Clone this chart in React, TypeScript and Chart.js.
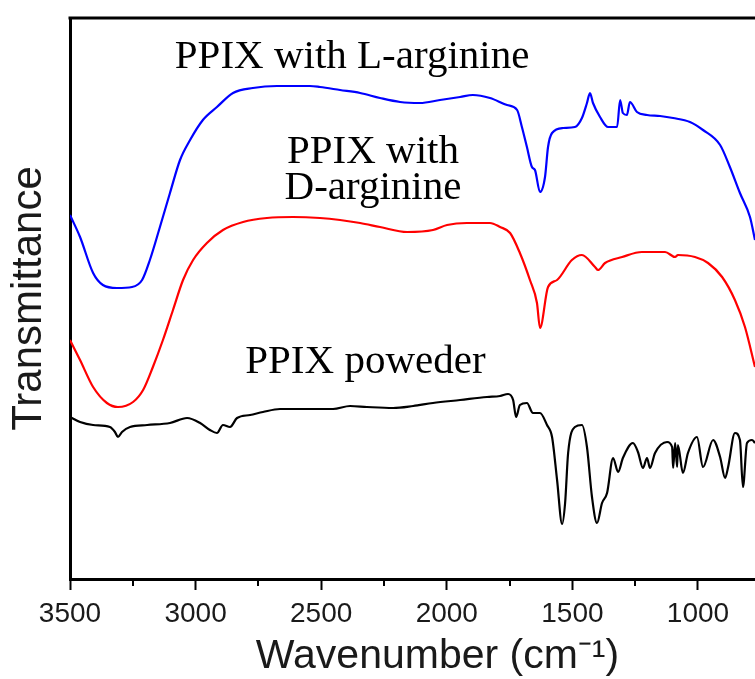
import React, { useEffect, useRef } from 'react';
import { Chart, registerables } from 'chart.js';

Chart.register(...registerables);

// ---- data (wavenumber in cm^-1, transmittance in arbitrary units) ----
const lArginineWavenumber = [3500, 3460, 3408, 3369, 3313, 3253, 3213, 3182, 3142, 3102, 3062, 3022, 2971, 2915, 2851, 2772, 2676, 2545, 2505, 2425, 2345, 2266, 2186, 2107, 2027, 1947, 1896, 1828, 1760, 1720, 1701, 1681, 1661, 1649, 1629, 1609, 1597, 1581, 1537, 1490, 1462, 1442, 1430, 1418, 1390, 1358, 1322, 1310, 1299, 1283, 1271, 1243, 1203, 1151, 1099, 1032, 980, 912, 873, 833, 793, 773];
const lArginineT = [364, 342, 306, 294, 291, 292, 299, 319, 352, 386, 419, 439, 459, 472, 486, 491, 493, 493, 492, 489, 486, 481, 477, 476, 479, 482, 484, 481, 474, 469, 452, 432, 412, 409, 387, 402, 432, 446, 451, 452, 461, 476, 486, 476, 462, 452, 452, 479, 466, 464, 477, 467, 464, 463, 461, 457, 449, 434, 412, 386, 362, 339];

const dArginineWavenumber = [3500, 3460, 3408, 3353, 3309, 3249, 3209, 3170, 3130, 3090, 3050, 3010, 2955, 2891, 2811, 2716, 2612, 2505, 2425, 2345, 2266, 2158, 2055, 1999, 1920, 1828, 1788, 1748, 1709, 1669, 1641, 1629, 1597, 1561, 1502, 1462, 1410, 1398, 1370, 1302, 1223, 1131, 1091, 1080, 1012, 960, 904, 853, 813, 773];
const dArginineT = [239, 219, 192, 176, 172, 177, 189, 212, 239, 269, 299, 319, 336, 349, 357, 361, 362, 361, 359, 356, 352, 347, 349, 354, 356, 356, 352, 346, 326, 299, 276, 251, 292, 299, 319, 324, 312, 309, 316, 322, 327, 327, 322, 324, 322, 316, 302, 279, 252, 212];

const powderWavenumber = [3500, 3460, 3408, 3341, 3321, 3309, 3293, 3261, 3193, 3102, 3034, 2982, 2943, 2915, 2891, 2863, 2835, 2783, 2732, 2664, 2545, 2453, 2385, 2318, 2214, 2134, 2055, 1947, 1840, 1788, 1756, 1736, 1724, 1709, 1681, 1657, 1629, 1601, 1581, 1561, 1541, 1529, 1517, 1490, 1462, 1442, 1422, 1402, 1382, 1362, 1338, 1318, 1299, 1259, 1239, 1219, 1203, 1191, 1171, 1123, 1103, 1099, 1091, 1083, 1080, 1060, 1040, 1004, 980, 940, 912, 892, 880, 853, 833, 821, 805, 785, 773];
const powderT = [162, 157, 154, 152, 147, 142, 147, 152, 154, 156, 161, 156, 149, 146, 154, 152, 161, 164, 167, 170, 170, 170, 173, 172, 171, 173, 176, 179, 182, 183, 185, 179, 162, 174, 176, 166, 166, 154, 142, 99, 55, 76, 126, 152, 154, 132, 82, 56, 76, 86, 121, 107, 121, 136, 127, 111, 121, 111, 126, 137, 132, 111, 136, 112, 134, 106, 126, 142, 112, 139, 122, 101, 112, 146, 139, 92, 136, 139, 136];

const seriesNames = ['PPIX with L-arginine', 'PPIX with D-arginine', 'PPIX poweder'];
const seriesColors = ['#0000ff', '#ff0000', '#000000'];

// Labels placed in data coordinates (wavenumber, transmittance)
const labelTexts = ['PPIX with L-arginine', 'PPIX with', 'D-arginine', 'PPIX poweder'];
const labelWavenumbers = [2377, 2294, 2294, 2324];
const labelT = [511, 416, 380, 206];

const xMax = 3500;
const xMin = 574;
const yMin = 0;
const yMax = 561;

const toPoints = (xs: number[], ys: number[]) => xs.map((x, i) => ({ x, y: ys[i] }));

const decorPlugin = {
  id: 'decor',
  afterDraw(chart: any) {
    const { ctx, chartArea, scales } = chart;
    const xs = scales.x;
    const ys = scales.y;
    ctx.save();
    // top frame line
    ctx.strokeStyle = '#000';
    ctx.lineWidth = 3;
    ctx.beginPath();
    ctx.moveTo(chartArea.left - 1.5, chartArea.top);
    ctx.lineTo(chartArea.right, chartArea.top);
    ctx.stroke();
    // minor ticks
    ctx.lineWidth = 2;
    xs.ticks.forEach((t: any) => {
      if (t.value % 500 !== 0) {
        const px = Math.round(xs.getPixelForValue(t.value));
        ctx.beginPath();
        ctx.moveTo(px, chartArea.bottom);
        ctx.lineTo(px, chartArea.bottom + 7);
        ctx.stroke();
      }
    });
    // curve labels
    ctx.font = '41px "Liberation Serif", "Times New Roman", serif';
    ctx.fillStyle = '#000';
    ctx.textAlign = 'center';
    ctx.textBaseline = 'alphabetic';
    labelTexts.forEach((txt, i) => {
      ctx.fillText(txt, xs.getPixelForValue(labelWavenumbers[i]), ys.getPixelForValue(labelT[i]));
    });
    ctx.restore();
  },
};

export default function App() {
  const canvasRef = useRef<HTMLCanvasElement | null>(null);

  useEffect(() => {
    const canvas = canvasRef.current;
    if (!canvas) return;
    const series = [
      toPoints(lArginineWavenumber, lArginineT),
      toPoints(dArginineWavenumber, dArginineT),
      toPoints(powderWavenumber, powderT),
    ];
    const chart = new Chart(canvas, {
      type: 'line',
      data: {
        datasets: series.map((d, i) => ({
          label: seriesNames[i],
          data: d,
          borderColor: seriesColors[i],
          backgroundColor: seriesColors[i],
          borderWidth: 2.2,
          pointRadius: 0,
          cubicInterpolationMode: 'monotone' as const,
          fill: false,
        })),
      },
      options: {
        responsive: false,
        animation: false,
        devicePixelRatio: 1,
        layout: { padding: { top: 18, right: 0, bottom: 0, left: 0 } },
        plugins: { legend: { display: false }, tooltip: { enabled: false }, title: { display: false } },
        scales: {
          x: {
            type: 'linear',
            reverse: true,
            min: xMin,
            max: xMax,
            afterFit: (s: any) => { s.height = 100; },
            border: { display: true, color: '#000', width: 3 },
            grid: {
              drawOnChartArea: false,
              drawTicks: true,
              tickLength: 11,
              tickWidth: 2,
              tickColor: (c: any) => (c.tick && c.tick.value % 500 === 0 ? '#000' : 'rgba(0,0,0,0)'),
            },
            ticks: {
              stepSize: 250,
              includeBounds: false,
              autoSkip: false,
              maxRotation: 0,
              minRotation: 0,
              padding: 7,
              color: '#1a1a1a',
              font: { family: '"Liberation Sans", Arial, sans-serif', size: 28 },
              callback: (v: any) => (Number(v) % 500 === 0 ? String(v) : ''),
            },
            title: {
              display: true,
              text: 'Wavenumber (cm⁻¹)',
              color: '#1a1a1a',
              font: { family: '"Liberation Sans", Arial, sans-serif', size: 41, lineHeight: 1 },
              padding: { top: 0, bottom: 2 },
            },
          },
          y: {
            type: 'linear',
            min: yMin,
            max: yMax,
            afterFit: (s: any) => { s.width = 70; },
            border: { display: true, color: '#000', width: 3 },
            grid: { display: false, drawTicks: false },
            ticks: { display: false },
            title: {
              display: true,
              text: 'Transmittance',
              color: '#1a1a1a',
              font: { family: '"Liberation Sans", Arial, sans-serif', size: 42, lineHeight: 1 },
              padding: { top: 8, bottom: 0 },
            },
          },
        },
      },
      plugins: [decorPlugin],
    });
    return () => chart.destroy();
  }, []);

  return (
    <div style={{ position: 'absolute', left: 0, top: 0, width: 755, height: 679, overflow: 'hidden', background: '#fff' }}>
      <canvas ref={canvasRef} width={805} height={679} style={{ display: 'block', width: 805, height: 679 }} />
    </div>
  );
}
